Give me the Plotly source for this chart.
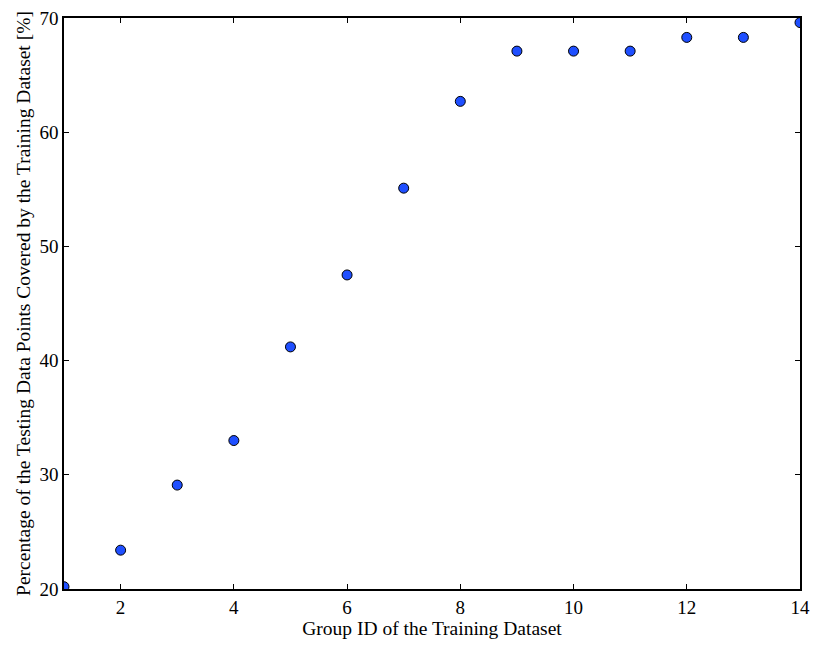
import plotly.graph_objects as go

group_ids = [1, 2, 3, 4, 5, 6, 7, 8, 9, 10, 11, 12, 13, 14]
coverage = [20.2, 23.4, 29.1, 33.0, 41.2, 47.5, 55.1, 62.7, 67.1, 67.1, 67.1, 68.3, 68.3, 69.6]
x_ticks = [2, 4, 6, 8, 10, 12, 14]
y_ticks = [20, 30, 40, 50, 60, 70]

FONT = "Liberation Serif"

fig = go.Figure()
fig.add_trace(go.Scatter(
    x=group_ids, y=coverage, mode="markers",
    marker=dict(size=10, color="#1f4fff", line=dict(color="black", width=1)),
    cliponaxis=True, showlegend=False,
))

axis_common = dict(
    showgrid=False, zeroline=False, showline=True, linecolor="black", linewidth=1.5,
    mirror="allticks", ticks="inside", ticklen=5, tickwidth=1, tickcolor="black",
    tickfont=dict(family=FONT, size=19, color="black"),
    automargin=False,
)
fig.update_xaxes(range=[1, 14], tickvals=x_ticks,
                 title=dict(text="Group ID of the Training Dataset", standoff=2,
                            font=dict(family=FONT, size=19.5, color="black")),
                 **axis_common)
fig.update_yaxes(range=[20, 70], tickvals=y_ticks,
                 title=dict(text="Percentage of the Testing Data Points Covered by the Training Dataset [%]", standoff=4,
                            font=dict(family=FONT, size=19.5, color="black")),
                 **axis_common)
fig.update_layout(
    width=815, height=645,
    margin=dict(l=64, r=15, t=18, b=56),
    paper_bgcolor="white", plot_bgcolor="white",
)
fig.write_html("out.html", config={"displayModeBar": False},
               post_script="document.body.style.margin='0';document.body.style.overflow='hidden';")
